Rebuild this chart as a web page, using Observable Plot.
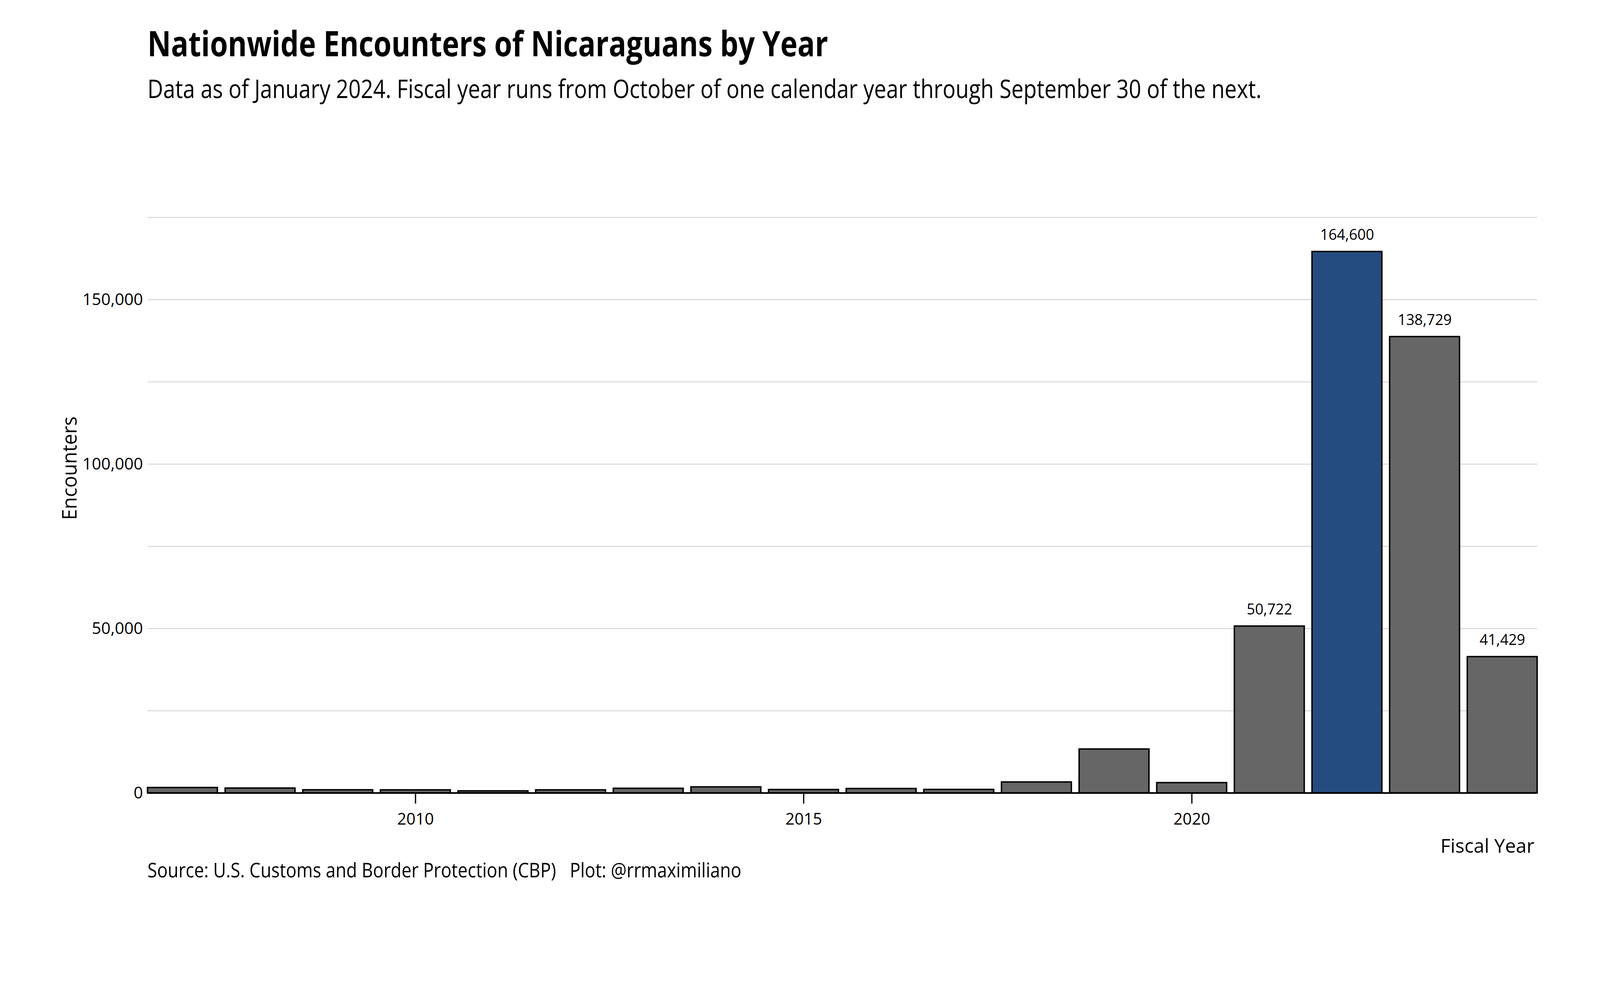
<!DOCTYPE html>
<html>
<head>
<meta charset="utf-8">
<script src="https://cdn.jsdelivr.net/npm/d3@7"></script>
<script src="https://cdn.jsdelivr.net/npm/@observablehq/plot@0.6"></script>
<style>
  html, body { margin: 0; padding: 0; background: #ffffff; overflow: hidden; }
  #wrap { position: relative; width: 4480px; height: 2560px; background: #ffffff; color: #000; font-family: "Open Sans", Lato, sans-serif; transform-origin: 0 0; }
  .txt { position: absolute; white-space: nowrap; line-height: 1; transform-origin: 0 0; }
  #chart { position: absolute; left: 0; top: 330px; width: 4480px; }
  #chart svg { max-width: none; }
</style>
</head>
<body>
<div id="wrap">
  <div id="title" class="txt">Nationwide Encounters of Nicaraguans by Year</div>
  <div id="subtitle" class="txt">Data as of January 2024. Fiscal year runs from October of one calendar year through September 30 of the next.</div>
  <div id="chart"></div>
  <div id="caption" class="txt">Source: U.S. Customs and Border Protection (CBP)&nbsp;&nbsp;&nbsp;Plot: @rrmaximiliano</div>
</div>
<script>
// ---- data ----
const years = [2007, 2008, 2009, 2010, 2011, 2012, 2013, 2014, 2015, 2016, 2017, 2018, 2019, 2020, 2021, 2022, 2023, 2024];
const encounters = [1630, 1470, 940, 920, 615, 920, 1395, 1830, 1015, 1320, 1050, 3310, 13340, 3115, 50722, 164600, 138729, 41429];
const labeledYears = [2021, 2022, 2023, 2024];
const highlightYear = 2022;
const xTickYears = [2010, 2015, 2020];
const yTickValues = [0, 50000, 100000, 150000];
const gridValues = [25000, 50000, 75000, 100000, 125000, 150000, 175000];
const xTitle = "Fiscal Year";
const yTitle = "Encounters";

const data = years.map((year, i) => ({year, value: encounters[i]}));
const normal = data.filter(d => d.year !== highlightYear);
const highlighted = data.filter(d => d.year === highlightYear);
const labeled = data.filter(d => labeledYears.includes(d.year));
const fmt = d3.format(",");

const chart = Plot.plot({
  width: 4480,
  height: 2090,
  marginTop: 71,
  marginBottom: 200,
  marginLeft: 413,
  marginRight: 176,
  style: {fontFamily: "'Open Sans', Lato, sans-serif", fontSize: "44px", color: "#000", background: "transparent", overflow: "visible"},
  x: {domain: [2006.55, 2024.45]},
  y: {domain: [0, 197520]},
  marks: [
    Plot.ruleY(gridValues, {stroke: "#d3d3d3", strokeWidth: 2.5}),
    Plot.rectY(normal, {x1: d => d.year - 0.45, x2: d => d.year + 0.45, y1: 0, y2: "value", fill: "#666666", stroke: "#000", strokeWidth: 4}),
    Plot.rectY(highlighted, {x1: d => d.year - 0.45, x2: d => d.year + 0.45, y1: 0, y2: "value", fill: "#254c80", stroke: "#000", strokeWidth: 4}),
    Plot.ruleY([0], {stroke: "#000", strokeWidth: 4.5}),
    Plot.text(labeled, {x: "year", y: "value", text: d => fmt(d.value), lineAnchor: "bottom", dy: -33, fontSize: 41, fill: "#000"}),
    Plot.axisX({ticks: xTickYears, tickFormat: d => String(d), tickSize: 30, tickPadding: 26, strokeWidth: 3.5, fontSize: 45, label: null}),
    Plot.text([xTitle], {frameAnchor: "bottom-right", textAnchor: "end", lineAnchor: "bottom", dx: -8, dy: 167, fontSize: 54, fill: "#000"}),
    Plot.axisY({ticks: yTickValues, tickFormat: d => fmt(d), tickSize: 0, tickPadding: 13, fontSize: 46,
                label: yTitle, labelAnchor: "center", labelArrow: "none", labelOffset: 238})
  ]
});
document.getElementById("chart").appendChild(chart);
// axis title is larger than tick labels
chart.querySelectorAll('g[aria-label="y-axis label"]').forEach(g => {
  g.setAttribute("font-size", "55");
  g.querySelectorAll("text").forEach(t => t.setAttribute("font-size", "55"));
});

// ---- title / subtitle / caption placement ----
function place(id, left, baseline, capH, targetW, weight) {
  const el = document.getElementById(id);
  el.style.fontSize = (capH / 0.714) + "px";
  el.style.fontWeight = weight;
  el.style.left = left + "px";
  el.style.top = "0px";
  const probe = document.createElement("span");
  probe.style.display = "inline-block";
  probe.style.width = "0px";
  probe.style.height = "0px";
  probe.style.verticalAlign = "baseline";
  el.appendChild(probe);
  const b = probe.offsetTop;
  el.removeChild(probe);
  el.style.top = (baseline - b) + "px";
  const w = el.offsetWidth;
  el.style.transform = `scaleX(${targetW / w})`;
}
place("title", 413, 157, 70, 1906, 700);
place("subtitle", 413, 275, 51, 3119, 400);
place("caption", 413, 2457, 40, 1663, 400);

// fit the 4480-wide design to the actual viewport
const s = Math.min(window.innerWidth / 4480, window.innerHeight / 2560);
document.getElementById("wrap").style.transform = `scale(${s})`;
</script>
</body>
</html>
